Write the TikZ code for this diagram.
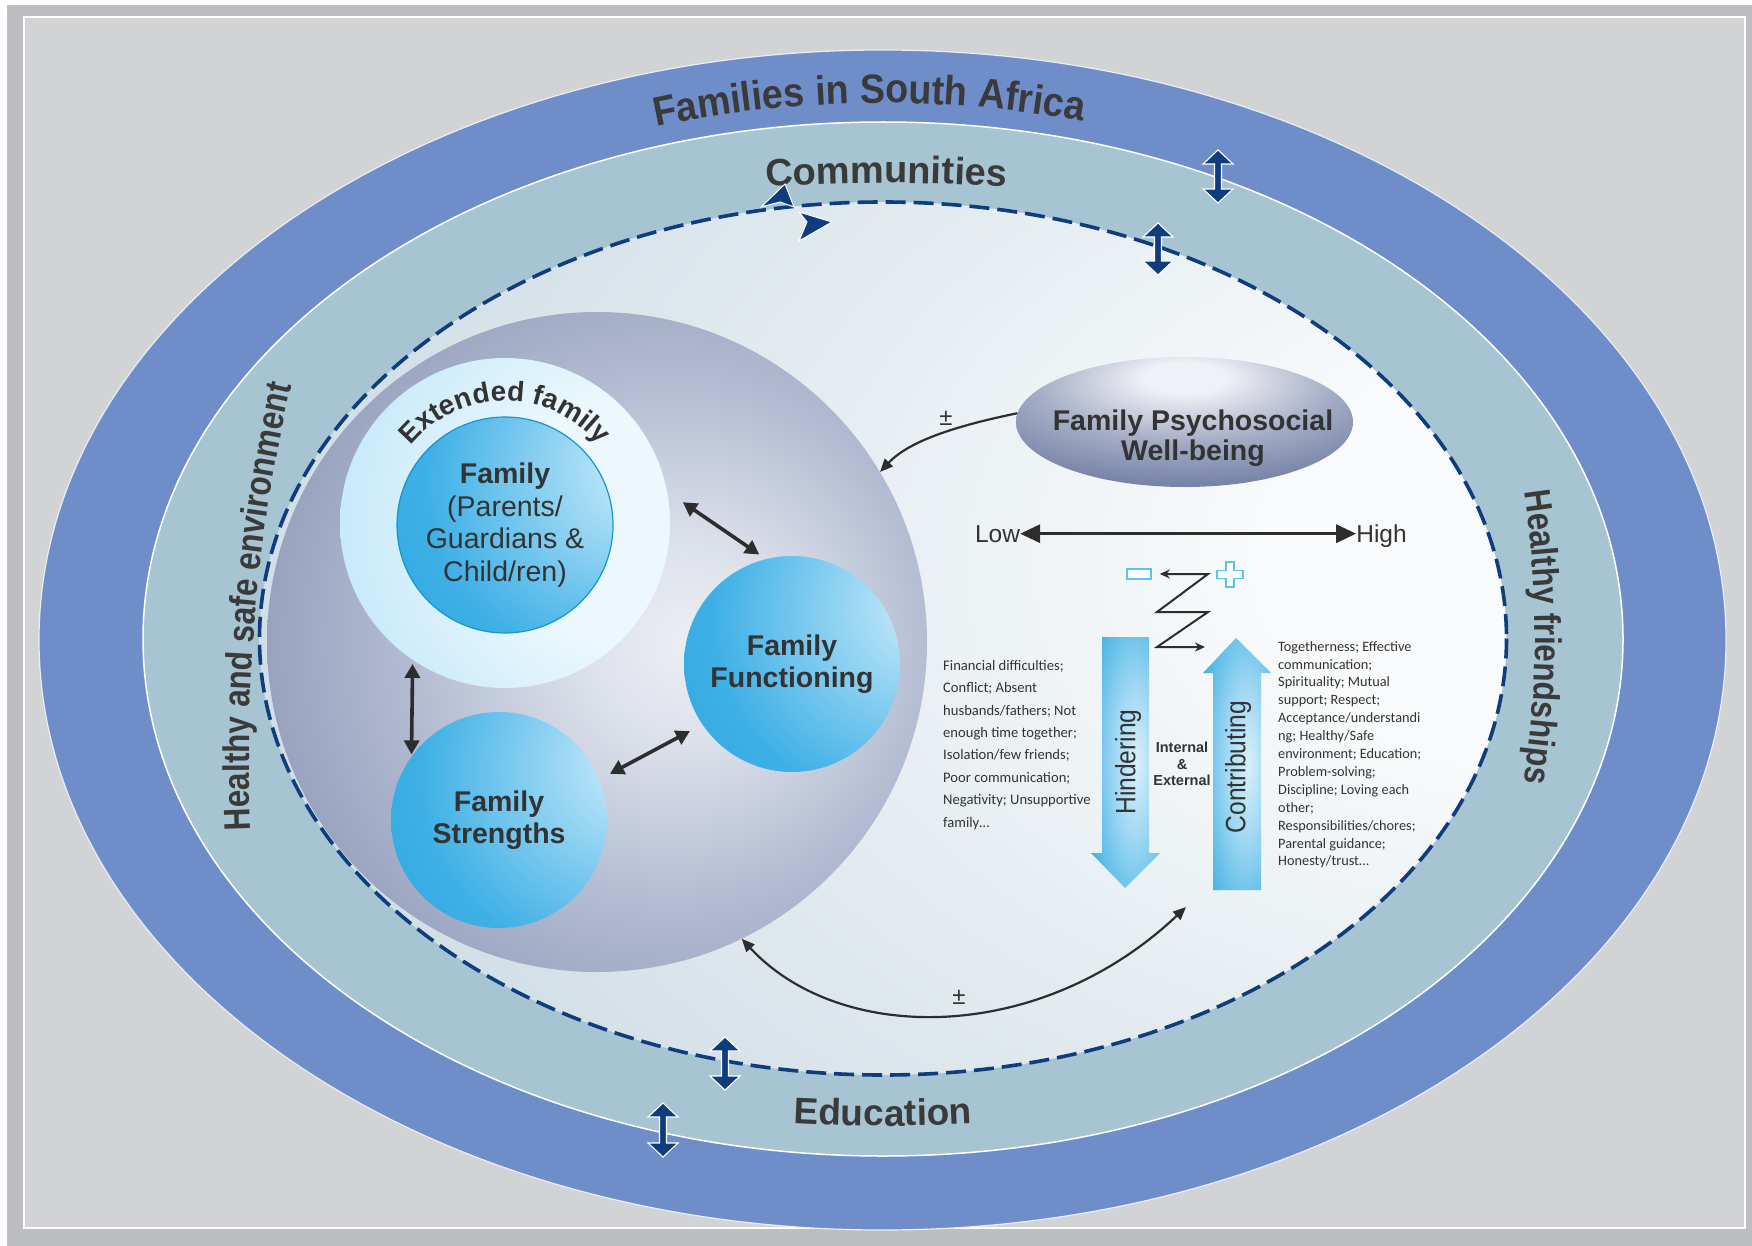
\documentclass[tikz,border=0pt]{standalone}
\usepackage{fontspec}
\setmainfont{Liberation Sans}
\newfontfamily\carl{Carlito}
\newfontfamily\sidefont{Liberation Sans}[FakeStretch=0.85]
\newfontfamily\famfont{Liberation Sans}[FakeStretch=0.92]
\newfontfamily\condfont{Liberation Sans}[FakeStretch=0.88]
\usetikzlibrary{arrows.meta,shapes.geometric,decorations.text}

\definecolor{frameout}{RGB}{189,190,193}
\definecolor{framein}{RGB}{210,211,213}
\definecolor{ringblue}{RGB}{111,142,201}
\definecolor{ringlight}{RGB}{167,196,210}
\definecolor{navy}{RGB}{14,60,125}
\definecolor{txt}{RGB}{51,51,51}
\definecolor{darktxt}{RGB}{58,58,58}
\definecolor{arrowgray}{RGB}{45,45,45}
\definecolor{cyanline}{RGB}{90,196,234}
\definecolor{famedge}{RGB}{20,150,205}
% inner ellipse
\definecolor{inA}{RGB}{248,250,251}
\definecolor{inB}{RGB}{212,224,231}
\definecolor{inC}{RGB}{186,205,218}
% sphere
\definecolor{sphA}{RGB}{236,238,243}
\definecolor{sphA2}{RGB}{222,226,235}
\definecolor{sphB}{RGB}{178,187,209}
\definecolor{sphC}{RGB}{142,153,183}
\definecolor{sphD}{RGB}{118,131,165}
\definecolor{sphE}{RGB}{102,116,152}
% extended family
\definecolor{exA}{RGB}{236,248,253}
\definecolor{exB}{RGB}{190,230,249}
\definecolor{exC}{RGB}{148,210,241}
% balls
\definecolor{bA}{RGB}{236,247,252}
\definecolor{bB}{RGB}{172,222,246}
\definecolor{bC}{RGB}{62,176,230}
\definecolor{bD}{RGB}{24,155,218}
% psychosocial
\definecolor{pA}{RGB}{240,241,246}
\definecolor{pB}{RGB}{165,173,197}
\definecolor{pC}{RGB}{100,115,155}
\definecolor{pD}{RGB}{80,95,135}
% big arrows
\definecolor{aA}{RGB}{218,240,250}
\definecolor{aB}{RGB}{160,216,243}
\definecolor{aC}{RGB}{45,168,225}
\definecolor{aD}{RGB}{25,155,218}

\pgfdeclareradialshading{innershade}{\pgfpoint{30bp}{5bp}}{color(0bp)=(inA); color(12bp)=(inA); color(42bp)=(inB); color(78bp)=(inC); color(130bp)=(inC)}
\pgfdeclareradialshading{sphereshade}{\pgfpoint{7bp}{0bp}}{color(0bp)=(sphA); color(7bp)=(sphA2); color(20bp)=(sphB); color(34bp)=(sphC); color(46bp)=(sphD); color(58bp)=(sphE); color(100bp)=(sphE)}
\pgfdeclareradialshading{extshade}{\pgfpoint{22bp}{0bp}}{color(0bp)=(exA); color(18bp)=(exA); color(45bp)=(exB); color(72bp)=(exC); color(110bp)=(exC)}
\pgfdeclareradialshading{ballshade}{\pgfpoint{35bp}{15bp}}{color(0bp)=(bA); color(12bp)=(bB); color(42bp)=(bC); color(80bp)=(bD); color(130bp)=(bD)}
\pgfdeclareradialshading{psyshade}{\pgfpoint{0bp}{18bp}}{color(0bp)=(pA); color(6bp)=(pA); color(22bp)=(pB); color(42bp)=(pC); color(65bp)=(pD); color(110bp)=(pD)}
\pgfdeclareradialshading{arrshade}{\pgfpoint{8bp}{0bp}}{color(0bp)=(aA); color(15bp)=(aB); color(40bp)=(aC); color(60bp)=(aD); color(110bp)=(aD)}

\newcommand{\navyDbl}[3]{%
  \filldraw[fill=navy, draw=white, line width=1.1, line join=miter]
   (#1,#2) -- ++(15,14) -- ++(-11.5,0) -- (#1+3.5,#3-14) -- ++(11.5,0) -- (#1,#3)
   -- ++(-15,-14) -- ++(11.5,0) -- (#1-3.5,#2+14) -- ++(-11.5,0) -- cycle;}

\begin{document}
\begin{tikzpicture}[x=1pt,y=-1pt,
  lbl/.style={text=txt, inner sep=0, align=center},
  ball/.style={circle, inner sep=0, minimum size=216, shading=ballshade, text=txt,
    align=center, font=\bfseries\fontsize{28.5}{32.5}\selectfont},
  dblarr/.style={{Triangle[length=14pt,width=15pt]}-{Triangle[length=14pt,width=15pt]},
    line width=3.6, draw=arrowgray},
  curvarr/.style={line width=2.2, draw=arrowgray},
  ringtext/.style={decorate, decoration={text along path, text align=center, text={#1}}}
]
\useasboundingbox (0,0) rectangle (1752,1246);

% frame
\fill[white] (0,0) rectangle (1752,1246);
\fill[frameout] (7,5) rectangle (1752,1246);
\filldraw[fill=framein, draw=white, line width=2] (24,17) rectangle (1745,1228);

% rings
\filldraw[fill=ringblue, draw=white!85!ringblue, line width=1.2] (882.5,640) ellipse [x radius=843.5, y radius=590];
\filldraw[fill=ringlight, draw=white, line width=1.5] (883,639) ellipse [x radius=740, y radius=517];
\path[shading=innershade] (883,638.5) ellipse [x radius=623.5, y radius=436.5];
\draw[navy, line width=3.6, dash pattern=on 20pt off 8pt] (883,638.5) ellipse [x radius=623.5, y radius=436.5];

% ring texts
\path[ringtext={|\famfont\bfseries\fontsize{41}{44}\selectfont\color{darktxt}|Families in South Africa}]
  (883,642) ++(228.85:770 and 539) arc[start angle=228.85, end angle=308.85, x radius=770, y radius=539];
\path[ringtext={|\bfseries\fontsize{38}{40}\selectfont\color{darktxt}|Communities}]
  (883,642) ++(240.25:900 and 459) arc[start angle=240.25, end angle=300.25, x radius=900, y radius=459];
\path[ringtext={|\bfseries\fontsize{37}{40}\selectfont\color{darktxt}|Education}]
  (883,642) ++(105:900 and 484) arc[start angle=105, end angle=75, x radius=900, y radius=484];
\path[ringtext={|\sidefont\bfseries\fontsize{37}{40}\selectfont\color{darktxt}|Healthy and safe environment}]
  (883,760) ++(168.8:634 and 1040) arc[start angle=168.8, end angle=208.8, x radius=634, y radius=1040];
\path[ringtext={|\sidefont\bfseries\fontsize{37}{40}\selectfont\color{darktxt}|Healthy friendships}]
  (883,637) ++(-25:652 and 800) arc[start angle=-25, end angle=25, x radius=652, y radius=800];

% navy double arrows and marks
\navyDbl{1218}{150}{203}
\navyDbl{1158}{223}{275}
\navyDbl{725}{1037}{1090}
\navyDbl{663}{1103}{1157}
\filldraw[fill=navy, draw=white, line width=1] (785,184) -- (794,207) -- (780,202) -- (761,207) -- cycle;
\filldraw[fill=navy, draw=white, line width=1] (832,222) -- (799,212) -- (807,222) -- (799,241) -- cycle;

% family system
\node[circle, inner sep=0, minimum size=660, shading=sphereshade] (sphere) at (597,642) {};
\node[circle, inner sep=0, minimum size=330, shading=extshade] (ext) at (505,523) {};
\path[ringtext={|\bfseries\fontsize{28}{30}\selectfont\color{txt}|Extended family}]
  (505,523) ++(190:122) arc[start angle=190, end angle=350, radius=122];
\node[ball, draw=famedge, line width=1.2, font=\fontsize{28.5}{32.5}\selectfont] (fam) at (505,525)
  {\textbf{Family}\\(Parents/\\Guardians \&\\Child/ren)};
\node[ball] (func) at (792,664) {Family\\Functioning};
\node[ball] (str) at (499,820) {Family\\Strengths};

\draw[dblarr, shorten <=19pt, shorten >=8pt] (ext.11) -- (func.104);
\draw[dblarr, shorten <=4pt, shorten >=2pt] (ext.236) -- (str.144);
\draw[dblarr, shorten <=12pt, shorten >=14pt] (str.22.5) -- (func.214.3);

% psychosocial well-being
\node[ellipse, inner sep=0, minimum width=337, minimum height=130, shading=psyshade] (psy) at (1184.5,422) {};
\node[lbl, font=\bfseries\fontsize{28.5}{29.5}\selectfont] (psytxt) at (1193,438) {Family Psychosocial\\Well-being};
\draw[curvarr, -{Triangle[length=13pt,width=11pt]}] (psy.177) .. controls (960,425) and (910,440) .. (sphere.31);
\node[lbl, font=\fontsize{24}{26}\selectfont] (pmA) at (946,418) {±};

% low / high
\node[lbl, anchor=base, font=\fontsize{24.5}{26}\selectfont] (low) at (997.5,542) {Low};
\node[lbl, anchor=base, font=\fontsize{24.5}{26}\selectfont] (high) at (1381.5,542) {High};
\draw[line width=3.3, draw=arrowgray, {Triangle[length=20pt,width=18pt]}-{Triangle[length=20pt,width=18pt]}]
  (low.east) -- (low.east -| high.west);

% minus / plus and zigzag
\node[draw=cyanline, fill=white, line width=1.6, minimum width=24, minimum height=10, inner sep=0] (minus) at (1139,574) {};
\filldraw[draw=cyanline, fill=white, line width=1.6]
  (1226,562) -- (1234,562) -- (1234,570.5) -- (1243,570.5) -- (1243,578.5) -- (1234,578.5)
  -- (1234,587) -- (1226,587) -- (1226,578.5) -- (1217,578.5) -- (1217,570.5) -- (1226,570.5) -- cycle;
\coordinate (zigend) at (1205,647);
\draw[line width=2, draw=arrowgray, line join=miter, {Stealth[length=10pt,width=9pt]}-{Stealth[length=10pt,width=9pt]}]
  ([xshift=8pt]minus.east) -- (1208,574) -- (1157,612) -- (1208,612) -- (1157,647) -- (zigend);

% hindering / contributing arrows
\path[shading=arrshade] (1102,637) -- (1149,637) -- (1149,853) -- (1160,853) -- (1125,888) -- (1091,853) -- (1102,853) -- cycle;
\path[shading=arrshade] (1236,638) -- (1271,673) -- (1261,673) -- (1261,890) -- (1213,890) -- (1213,673) -- (1203,673) -- cycle;
\node[lbl, rotate=90, font=\condfont\fontsize{28}{30}\selectfont] (hind) at (1128,762) {Hindering};
\node[lbl, rotate=90, font=\condfont\fontsize{28}{30}\selectfont] (contr) at (1238,767) {Contributing};
\node[lbl, font=\bfseries\fontsize{14.5}{16.5}\selectfont] (intext) at (1182,764) {Internal\\\&\\External};

% factor lists
\node[lbl, anchor=north west, align=left, font=\carl\fontsize{14.6}{22.4}\selectfont] (hindlist) at (943,660)
  {Financial difficulties;\\Conflict; Absent\\husbands/fathers; Not\\enough time together;\\Isolation/few friends;\\Poor communication;\\Negativity; Unsupportive\\family…};
\node[lbl, anchor=north west, align=left, font=\carl\fontsize{14.3}{17.9}\selectfont] (contrlist) at (1278,641)
  {Togetherness; Effective\\communication;\\Spirituality; Mutual\\support; Respect;\\Acceptance/understandi\\ng;  Healthy/Safe\\environment; Education;\\Problem-solving;\\Discipline; Loving each\\other;\\Responsibilities/chores;\\Parental guidance;\\Honesty/trust…};

% bottom feedback arrow
\coordinate (fbend) at (1186,907);
\draw[curvarr, {Triangle[length=13pt,width=11pt]}-{Triangle[length=13pt,width=11pt]}]
  (sphere.-64) .. controls (840,1045) and (1040,1045) .. (fbend);
\node[lbl, font=\fontsize{24}{26}\selectfont] (pmB) at (959,997) {±};

\end{tikzpicture}
\end{document}
